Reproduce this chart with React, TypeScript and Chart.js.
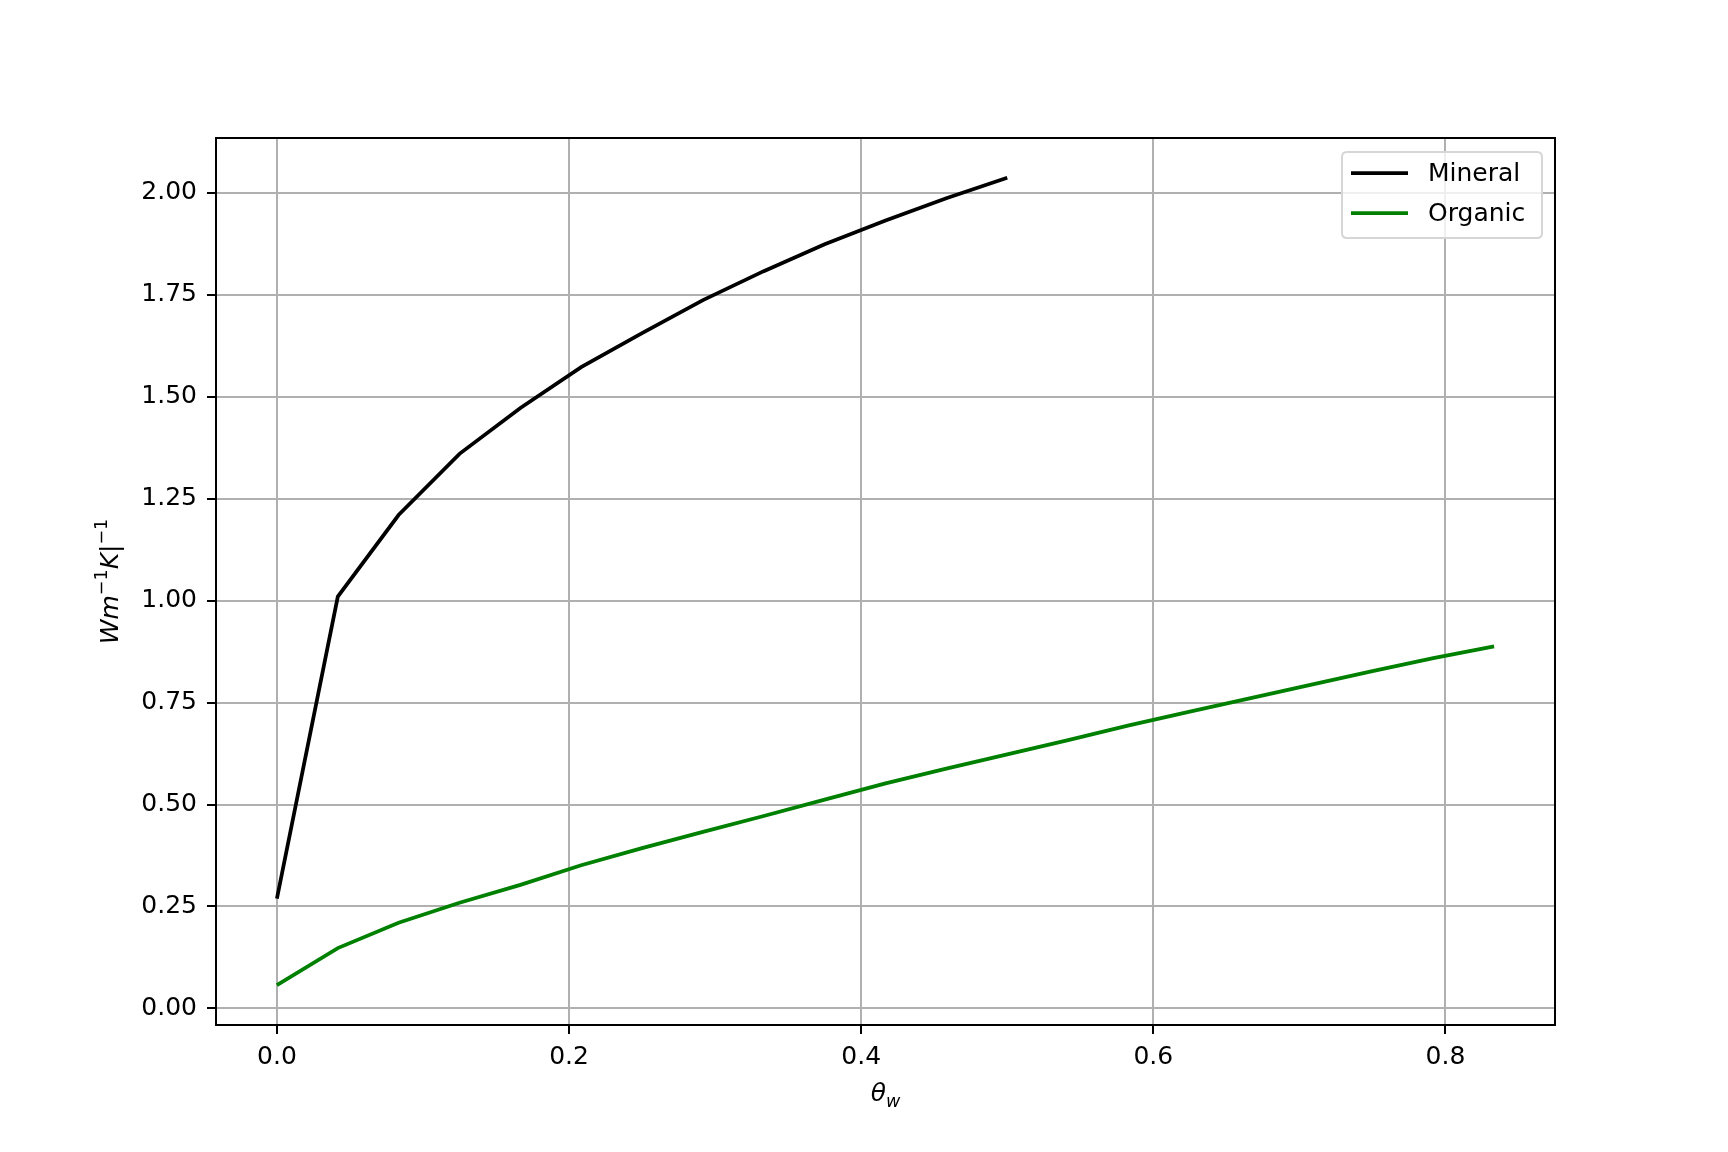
import React, { useEffect, useRef } from "react";
import { Chart, registerables } from "chart.js";

Chart.register(...registerables);

const thetaMineral = [0, 0.0417, 0.0833, 0.125, 0.1667, 0.2083, 0.25, 0.2917, 0.3333, 0.375, 0.4167, 0.4583, 0.5];
const kMineral = [0.269, 1.01, 1.21, 1.36, 1.4725, 1.5725, 1.656, 1.737, 1.808, 1.874, 1.932, 1.987, 2.037];

const thetaOrganic = [
  0, 0.0417, 0.0833, 0.125, 0.1667, 0.2083, 0.25, 0.2917, 0.3333, 0.375, 0.4167,
  0.4583, 0.5, 0.5417, 0.5833, 0.625, 0.6667, 0.7083, 0.75, 0.7917, 0.8333,
];
const kOrganic = [
  0.057, 0.148, 0.21, 0.259, 0.303, 0.351, 0.393, 0.433, 0.472, 0.512, 0.552,
  0.588, 0.623, 0.658, 0.694, 0.728, 0.761, 0.794, 0.827, 0.859, 0.888,
];

const seriesNames = ["Mineral", "Organic"];
const seriesColors = ["#000000", "#008000"];
const xTickValues = [0, 0.2, 0.4, 0.6, 0.8];
const yTickValues = [0, 0.25, 0.5, 0.75, 1.0, 1.25, 1.5, 1.75, 2.0];

const FONT = "'DejaVu Sans', 'Liberation Sans', sans-serif";
const FS = 25;

const decorPlugin = {
  id: "decor",
  afterDatasetsDraw(chart: any) {
    const ctx = chart.ctx as CanvasRenderingContext2D;
    const a = chart.chartArea;
    ctx.save();
    // spines
    ctx.strokeStyle = "#000";
    ctx.lineWidth = 2;
    ctx.strokeRect(a.left, a.top, a.right - a.left, a.bottom - a.top);

    // legend
    const bx = a.right - 13;
    const bw = 200;
    const left = bx - bw;
    const top = a.top + 14;
    const bh = 86;
    const r = 5;
    ctx.beginPath();
    ctx.moveTo(left + r, top);
    ctx.lineTo(left + bw - r, top);
    ctx.quadraticCurveTo(left + bw, top, left + bw, top + r);
    ctx.lineTo(left + bw, top + bh - r);
    ctx.quadraticCurveTo(left + bw, top + bh, left + bw - r, top + bh);
    ctx.lineTo(left + r, top + bh);
    ctx.quadraticCurveTo(left, top + bh, left, top + bh - r);
    ctx.lineTo(left, top + r);
    ctx.quadraticCurveTo(left, top, left + r, top);
    ctx.closePath();
    ctx.fillStyle = "rgba(255,255,255,0.8)";
    ctx.fill();
    ctx.strokeStyle = "#d6d6d6";
    ctx.lineWidth = 2;
    ctx.stroke();

    const rows = [top + 21, top + 61];
    seriesNames.forEach((name, i) => {
      ctx.strokeStyle = seriesColors[i];
      ctx.lineWidth = 3.75;
      ctx.beginPath();
      ctx.moveTo(left + 9, rows[i]);
      ctx.lineTo(left + 66, rows[i]);
      ctx.stroke();
      ctx.fillStyle = "#000";
      ctx.font = `${FS}px ${FONT}`;
      ctx.textAlign = "left";
      ctx.textBaseline = "middle";
      ctx.fillText(name, left + 86, rows[i] + 1);
    });

    // x label: theta_w
    const cx = (a.left + a.right) / 2;
    ctx.textBaseline = "alphabetic";
    ctx.textAlign = "left";
    ctx.font = `italic ${FS}px ${FONT}`;
    const wTheta = ctx.measureText("θ").width;
    ctx.font = `italic ${FS * 0.7}px ${FONT}`;
    const wW = ctx.measureText("w").width;
    const startX = cx - (wTheta + wW) / 2;
    ctx.font = `italic ${FS}px ${FONT}`;
    ctx.fillText("θ", startX, 1101);
    ctx.font = `italic ${FS * 0.7}px ${FONT}`;
    ctx.fillText("w", startX + wTheta, 1107);

    // y label: Wm^{-1}K|^{-1}
    const pieces = [
      { t: "Wm", s: FS, dy: 0, it: true },
      { t: "−1", s: FS * 0.7, dy: -11, it: false },
      { t: "K|", s: FS, dy: 0, it: true },
      { t: "−1", s: FS * 0.7, dy: -11, it: false },
    ];
    let total = 0;
    const widths: number[] = [];
    pieces.forEach((p) => {
      ctx.font = `${p.it ? "italic " : ""}${p.s}px ${FONT}`;
      const w = ctx.measureText(p.t).width;
      widths.push(w);
      total += w;
    });
    const cy = (a.top + a.bottom) / 2;
    ctx.translate(118, cy);
    ctx.rotate(-Math.PI / 2);
    let px = -total / 2;
    pieces.forEach((p, i) => {
      ctx.font = `${p.it ? "italic " : ""}${p.s}px ${FONT}`;
      ctx.fillText(p.t, px, p.dy);
      px += widths[i];
    });
    ctx.restore();
  },
};

export default function App() {
  const ref = useRef<HTMLCanvasElement | null>(null);
  useEffect(() => {
    document.body.style.margin = "0";
    const canvas = ref.current;
    if (!canvas) return;
    const chart = new Chart(canvas, {
      type: "line",
      data: {
        datasets: [
          {
            label: seriesNames[0],
            data: thetaMineral.map((x, i) => ({ x, y: kMineral[i] })),
            borderColor: seriesColors[0],
            backgroundColor: seriesColors[0],
            borderWidth: 3.75,
            pointRadius: 0,
            tension: 0,
            fill: false,
          },
          {
            label: seriesNames[1],
            data: thetaOrganic.map((x, i) => ({ x, y: kOrganic[i] })),
            borderColor: seriesColors[1],
            backgroundColor: seriesColors[1],
            borderWidth: 3.75,
            pointRadius: 0,
            tension: 0,
            fill: false,
          },
        ],
      },
      options: {
        animation: false,
        responsive: false,
        devicePixelRatio: 1,
        layout: { padding: { left: 0, top: 138, right: 173, bottom: 0 } },
        plugins: {
          legend: { display: false },
          tooltip: { enabled: false },
          title: { display: false },
        },
        scales: {
          x: {
            type: "linear",
            min: -0.0417,
            max: 0.875,
            afterBuildTicks: (s: any) => {
              s.ticks = xTickValues.map((v) => ({ value: v }));
            },
            afterFit: (s: any) => {
              s.height = 127;
            },
            grid: {
              color: "#b0b0b0",
              lineWidth: 2,
              drawTicks: true,
              tickLength: 9,
              tickColor: "#000",
              tickWidth: 2,
            },
            border: { display: false },
            ticks: {
              color: "#000",
              font: { family: FONT, size: FS },
              padding: 8,
              maxRotation: 0,
              autoSkip: false,
              callback: (v: any) => Number(v).toFixed(1),
            },
          },
          y: {
            type: "linear",
            min: -0.0407,
            max: 2.1346,
            afterBuildTicks: (s: any) => {
              s.ticks = yTickValues.map((v) => ({ value: v }));
            },
            afterFit: (s: any) => {
              s.width = 216;
            },
            grid: {
              color: "#b0b0b0",
              lineWidth: 2,
              drawTicks: true,
              tickLength: 9,
              tickColor: "#000",
              tickWidth: 2,
            },
            border: { display: false },
            ticks: {
              color: "#000",
              font: { family: FONT, size: FS },
              padding: 10,
              autoSkip: false,
              callback: (v: any) => Number(v).toFixed(2),
            },
          },
        },
      },
      plugins: [decorPlugin],
    });
    return () => chart.destroy();
  }, []);
  return (
    <div style={{ width: 1728, height: 1152, background: "#fff" }}>
      <canvas ref={ref} width={1728} height={1152} style={{ width: 1728, height: 1152, display: "block" }} />
    </div>
  );
}
